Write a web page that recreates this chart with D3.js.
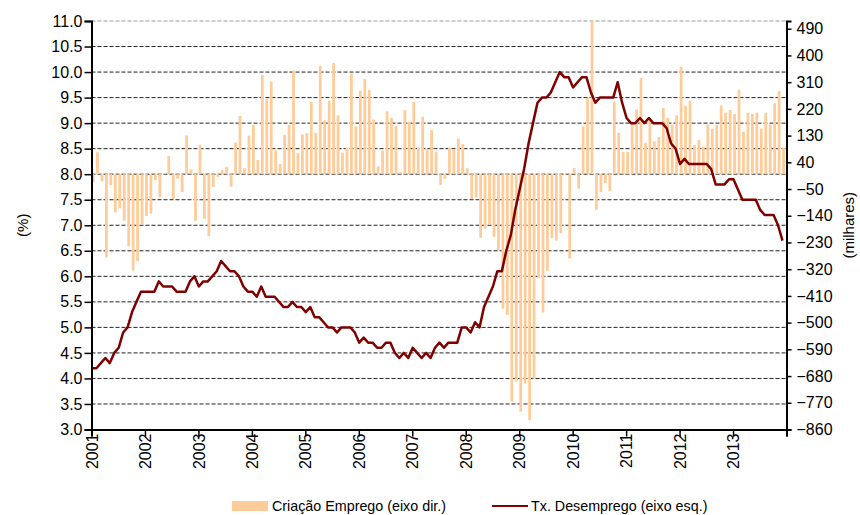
<!DOCTYPE html>
<html>
<head>
<meta charset="utf-8">
<script src="https://cdn.jsdelivr.net/npm/d3@7"></script>
<style>
  body { margin: 0; background: #fff; }
  text { font-family: "Liberation Sans", Arial, sans-serif; }
</style>
</head>
<body>
<div id="chart"></div>
<script>
// year labels on the x axis (one tick per January)
var years = ["2001","2002","2003","2004","2005","2006","2007","2008","2009","2010","2011","2012","2013"];

// left axis (%), right axis (milhares)
var leftTicks = [3.0,3.5,4.0,4.5,5.0,5.5,6.0,6.5,7.0,7.5,8.0,8.5,9.0,9.5,10.0,10.5,11.0];
var rightTicks = [-860,-770,-680,-590,-500,-410,-320,-230,-140,-50,40,130,220,310,400,490];

// Criação Emprego, monthly, thousands (eixo dir.)
var criacao = [
  -27, 74, -24, -280, -37, -129, -115, -157, -243, -324, -293, -169,
  -141, -133, -20, -78, 3, 61, -83, -15, -60, 130, 16, -157,
  99, -150, -209, -43, -9, 15, 25, -42, 107, 196, 20, 130,
  166, 48, 334, 253, 312, 80, 34, 133, 166, 349, 71, 134,
  138, 243, 139, 365, 181, 248, 375, 198, 72, 89, 339, 161,
  281, 321, 284, 184, 26, 80, 212, 190, 162, 8, 216, 176,
  243, 90, 193, 84, 148, 76, -36, -15, 90, 84, 120, 102,
  20, -83, -77, -214, -183, -169, -211, -255, -453, -474, -766, -698,
  -800, -705, -828, -688, -350, -466, -325, -215, -224, -199, -2, -284,
  20, -49, 161, 257, 530, -120, -61, -30, -57, 243, 139, 75,
  75, 173, 218, 324, 106, 190, 111, 125, 223, 190, 167, 198,
  362, 231, 248, 98, 115, 93, 167, 153, 167, 231, 207, 216,
  203, 285, 143, 207, 203, 207, 153, 207, 167, 239, 280, 89
];

// Tx. Desemprego, monthly, % (eixo esq.)
var desemprego = [
  4.2, 4.2, 4.3, 4.4, 4.3, 4.5, 4.6, 4.9, 5.0, 5.3, 5.5, 5.7,
  5.7, 5.7, 5.7, 5.9, 5.8, 5.8, 5.8, 5.7, 5.7, 5.7, 5.9, 6.0,
  5.8, 5.9, 5.9, 6.0, 6.1, 6.3, 6.2, 6.1, 6.1, 6.0, 5.8, 5.7,
  5.7, 5.6, 5.8, 5.6, 5.6, 5.6, 5.5, 5.4, 5.4, 5.5, 5.4, 5.4,
  5.3, 5.4, 5.2, 5.2, 5.1, 5.0, 5.0, 4.9, 5.0, 5.0, 5.0, 4.9,
  4.7, 4.8, 4.7, 4.7, 4.6, 4.6, 4.7, 4.7, 4.5, 4.4, 4.5, 4.4,
  4.6, 4.5, 4.4, 4.5, 4.4, 4.6, 4.7, 4.6, 4.7, 4.7, 4.7, 5.0,
  5.0, 4.9, 5.1, 5.0, 5.4, 5.6, 5.8, 6.1, 6.1, 6.5, 6.8, 7.3,
  7.7, 8.1, 8.6, 9.0, 9.4, 9.5, 9.5, 9.6, 9.8, 10.0, 9.9, 9.9,
  9.7, 9.8, 9.9, 9.9, 9.6, 9.4, 9.5, 9.5, 9.5, 9.5, 9.8, 9.4,
  9.1, 9.0, 9.0, 9.1, 9.0, 9.1, 9.0, 9.0, 9.0, 8.9, 8.6, 8.5,
  8.2, 8.3, 8.2, 8.2, 8.2, 8.2, 8.2, 8.1, 7.8, 7.8, 7.8, 7.9,
  7.9, 7.7, 7.5, 7.5, 7.5, 7.5, 7.3, 7.2, 7.2, 7.2, 7.0, 6.7
];

var W = 860, H = 515;
// plot box
var pLeft = 91.5, pRight = 786.5, pTop = 21, pBottom = 429.5;

var svg = d3.select("#chart")
  .append("svg")
    .attr("width", W)
    .attr("height", H);

var nMonths = years.length * 12;

var x = d3.scaleLinear()
  .domain([0, nMonths])
  .range([pLeft, pRight]);

var yL = d3.scaleLinear()
  .domain([3, 11])
  .range([pBottom, pTop]);

// right axis: 0 sits on the 8.0 line of the left axis
var yR = d3.scaleLinear()
  .domain([-860, 516])
  .range([pBottom, pTop]);

svg.append("clipPath")
    .attr("id", "plot-clip")
  .append("rect")
    .attr("x", pLeft)
    .attr("y", pTop)
    .attr("width", pRight - pLeft)
    .attr("height", pBottom - pTop);

// dashed gridlines
svg.append("g")
  .selectAll("line")
  .data(leftTicks.filter(function(d) { return d > 3; }))
  .enter()
  .append("line")
    .attr("x1", pLeft)
    .attr("x2", pRight)
    .attr("y1", function(d) { return yL(d); })
    .attr("y2", function(d) { return yL(d); })
    .attr("stroke", function(d) { return d == 11 ? "#999" : "#222"; })
    .attr("stroke-width", 1)
    .attr("stroke-dasharray", "4,2");

// bars
var mw = x(1) - x(0);
svg.append("g")
    .attr("clip-path", "url(#plot-clip)")
  .selectAll("rect")
  .data(criacao)
  .enter()
  .append("rect")
    .attr("x", function(d, i) { return x(i + 0.03); })
    .attr("width", mw * 0.62)
    .attr("y", function(d) { return yR(Math.max(0, d)); })
    .attr("height", function(d) { return Math.abs(yR(d) - yR(0)); })
    .attr("fill", "#FFCC99");

// unemployment line
svg.append("path")
  .datum(desemprego)
    .attr("fill", "none")
    .attr("stroke", "#800000")
    .attr("stroke-width", 2.5)
    .attr("stroke-linejoin", "round")
    .attr("d", d3.line()
      .x(function(d, i) { return x(i + 0.1); })
      .y(function(d) { return yL(d); })
    );

// left axis
var gL = svg.append("g")
  .attr("transform", "translate(" + pLeft + ",0)")
  .call(d3.axisLeft(yL)
    .tickValues(leftTicks)
    .tickSize(7)
    .tickPadding(2)
    .tickFormat(d3.format(".1f")));

// right axis
var gR = svg.append("g")
  .attr("transform", "translate(" + pRight + ",0)")
  .call(d3.axisRight(yR)
    .tickValues(rightTicks)
    .tickSize(5)
    .tickPadding(5));

// bottom axis
var gX = svg.append("g")
  .attr("transform", "translate(0," + pBottom + ")")
  .call(d3.axisBottom(x)
    .tickValues(d3.range(0, nMonths + 1, 12))
    .tickSize(7)
    .tickFormat(function(d) { return years[d / 12] || ""; }));

gX.selectAll("text")
  .attr("transform", "rotate(-90)")
  .attr("text-anchor", "end")
  .attr("x", -4)
  .attr("y", 0)
  .attr("dy", "0.35em");

[gL, gR, gX].forEach(function(g) {
  g.selectAll(".domain").attr("stroke", "#000").attr("stroke-width", 2);
  g.selectAll(".tick line").attr("stroke", "#000").attr("stroke-width", 1.5);
  g.selectAll("text")
    .attr("fill", "#000")
    .style("font-size", "16px")
    .style("font-family", "'Liberation Sans', Arial, sans-serif");
});

// axis titles
svg.append("text")
  .attr("transform", "translate(23," + ((pTop + pBottom) / 2) + ") rotate(-90)")
  .attr("text-anchor", "middle")
  .attr("dy", "0.35em")
  .style("font-size", "15px")
  .text("(%)");

svg.append("text")
  .attr("transform", "translate(849," + ((pTop + pBottom) / 2) + ") rotate(-90)")
  .attr("text-anchor", "middle")
  .attr("dy", "0.35em")
  .style("font-size", "15px")
  .text("(milhares)");

// legend
var legend = svg.append("g");
legend.append("rect")
  .attr("x", 232)
  .attr("y", 501)
  .attr("width", 36)
  .attr("height", 10)
  .attr("fill", "#FFCC99");
legend.append("text")
  .attr("x", 272)
  .attr("y", 511)
  .style("font-size", "14.3px")
  .text("Criação Emprego (eixo dir.)");
legend.append("line")
  .attr("x1", 492)
  .attr("x2", 528)
  .attr("y1", 506)
  .attr("y2", 506)
  .attr("stroke", "#800000")
  .attr("stroke-width", 2);
legend.append("text")
  .attr("x", 531)
  .attr("y", 511)
  .style("font-size", "14.3px")
  .text("Tx. Desemprego (eixo esq.)");
</script>
</body>
</html>
